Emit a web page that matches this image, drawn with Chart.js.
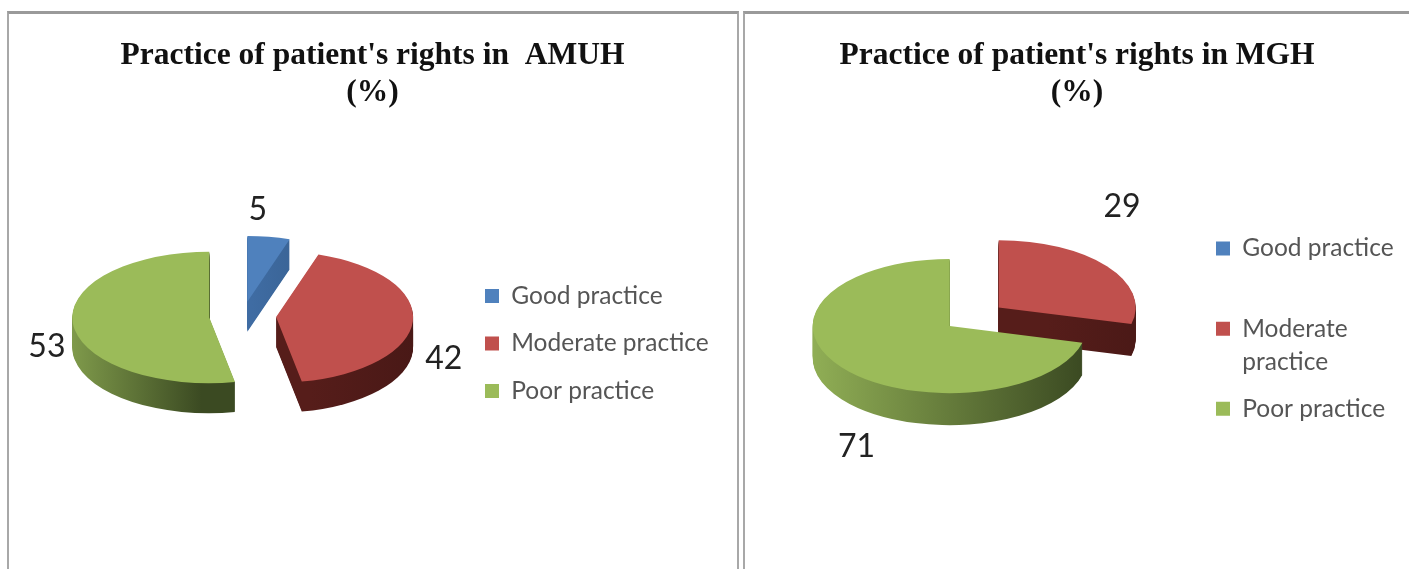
<!DOCTYPE html>
<html>
<head>
<meta charset="utf-8">
<title>Practice of patient's rights</title>
<script src="https://cdn.jsdelivr.net/npm/chart.js@4"></script>
<style>
    html, body { margin: 0; padding: 0; background: #fff; overflow: hidden; }
    body { position: relative; width: 1409px; height: 569px; }
    .panel { position: absolute; top: 11px; height: 558px; box-sizing: border-box; background: #fff;
             border-top: 3px solid #9a9a9a; border-left: 2px solid #a8a8a8; border-right: 2px solid #a8a8a8; }
    #panel-amuh { left: 7px; width: 732px; }
    #panel-mgh { left: 743px; width: 680px; }
    canvas { position: absolute; filter: blur(0.6px); }
</style>
</head>
<body>
<div class="panel" id="panel-amuh"></div>
<div class="panel" id="panel-mgh"></div>
<canvas id="amuhChart" style="left:8px;top:12px" width="729" height="557"></canvas>
<canvas id="mghChart" style="left:745px;top:12px" width="664" height="557"></canvas>
<script>
const amuhCategories = ["Good practice", "Moderate practice", "Poor practice"];
const mghCategories = [["Good practice", ""], ["Moderate", "practice"], ["Poor practice", ""]];
const amuhValues = [5, 42, 53];
const mghValues = [0, 29, 71];
const amuhTitle = ["Practice of patient's rights in  AMUH", "(%)"];
const mghTitle = ["Practice of patient's rights in MGH", "(%)"];

const topColors = ["#4f81bd", "#c0504d", "#9bbb59"];
const wallColors = [["#3f6ca3", "#3a6496"], ["#561d1a", "#451715"], ["#90ae55", "#3b4a22"]];

// squash the circle into an ellipse, drop it for the wall, then pull the slice out
function tilt(ctx, arc, squash, drop, explode) {
    const mid = (arc.startAngle + arc.endAngle) / 2;
    ctx.translate(0, arc.y + drop);
    ctx.scale(1, squash);
    ctx.translate(0, -arc.y);
    ctx.translate(Math.cos(mid) * explode, Math.sin(mid) * explode);
}

// horizontal shading of the side wall, over what the slice really covers
function wallFill(ctx, arc, stops, explode) {
    const mid = (arc.startAngle + arc.endAngle) / 2;
    const ox = arc.x + Math.cos(mid) * explode;
    let lo = ox, hi = ox;
    for (let i = 0; i <= 60; i++) {
        const a = arc.startAngle + (arc.endAngle - arc.startAngle) * i / 60;
        lo = Math.min(lo, ox + Math.cos(a) * arc.outerRadius);
        hi = Math.max(hi, ox + Math.cos(a) * arc.outerRadius);
    }
    const g = ctx.createLinearGradient(lo, 0, hi, 0);
    g.addColorStop(0, stops[0]);
    g.addColorStop(1, stops[1]);
    return g;
}

const tiltPie = {
    id: "tiltPie",
    afterLayout(chart, args, opts) {
        const lg = chart.legend;
        const dx = opts.legendLeft - lg.left;
        lg.left += dx;
        lg.right += dx;
        lg.top += opts.legendDrop;
        lg.bottom += opts.legendDrop;
        const tb = chart.titleBlock;
        const tx = chart.width / 2 - (tb.left + tb.right) / 2;
        tb.left += tx;
        tb.right += tx;
    },
    beforeDatasetDraw(chart, args, opts) {
        const ctx = chart.ctx;
        args.meta.data.forEach((arc, i) => {
            if (!arc.circumference) return;
            const base = arc.options;
            const out = opts.explode[i];
            arc.options = { ...base, backgroundColor: wallFill(ctx, arc, wallColors[i], out) };
            for (let d = opts.depth; d > 0; d--) {
                ctx.save();
                tilt(ctx, arc, opts.squash, d, out);
                arc.draw(ctx);
                ctx.restore();
            }
            arc.options = base;
            ctx.save();
            tilt(ctx, arc, opts.squash, 0, out);
            arc.draw(ctx);
            ctx.restore();
        });
        return false;
    },
    afterDatasetsDraw(chart, args, opts) {
        const ctx = chart.ctx;
        const values = chart.data.datasets[0].data;
        ctx.save();
        ctx.font = "32px Lato";
        ctx.fillStyle = "#222";
        ctx.textAlign = "center";
        ctx.textBaseline = "middle";
        chart.getDatasetMeta(0).data.forEach((arc, i) => {
            if (!values[i]) return;
            const mid = (arc.startAngle + arc.endAngle) / 2;
            const r = arc.outerRadius + opts.explode[i];
            const x = arc.x + Math.cos(mid) * r + opts.labelShift[i][0];
            const y = arc.y + Math.sin(mid) * r * opts.squash + opts.labelShift[i][1];
            ctx.fillText(String(values[i]), x, y);
        });
        ctx.restore();
    },
};

function makeChart(id, labels, values, title, padding, labelPad, tiltOpts) {
    return new Chart(document.getElementById(id), {
        type: "pie",
        plugins: [tiltPie],
        data: {
            labels,
            datasets: [{
                data: values,
                backgroundColor: topColors,
                borderWidth: 0,
                radius: 137,
            }],
        },
        options: {
            responsive: false,
            animation: false,
            layout: { padding },
            plugins: {
                tooltip: { enabled: false },
                title: {
                    display: true,
                    text: title,
                    color: "#111",
                    font: { family: "'Liberation Serif'", size: 31.5, weight: "bold", lineHeight: 1.175 },
                    padding: { top: 25, bottom: 8 },
                },
                legend: {
                    position: "right",
                    labels: {
                        color: "#555",
                        font: { family: "Lato", size: 24.5, lineHeight: 1.35 },
                        boxWidth: 14,
                        boxHeight: 14,
                        padding: labelPad,
                    },
                },
                tiltPie: tiltOpts,
            },
        },
    });
}

makeChart("amuhChart", amuhCategories, amuhValues, amuhTitle,
    { left: 13, right: 16, top: 0, bottom: 56 }, 23,
    { squash: 0.48, depth: 30, explode: [30, 33.5, 33.5], legendLeft: 454, legendDrop: 81,
      labelShift: [[-11, -27], [31, 38], [-26, 23]] });

makeChart("mghChart", mghCategories, mghValues, mghTitle,
    { left: 0, right: 53, top: 0, bottom: 36 }, 14,
    { squash: 0.49, depth: 32, explode: [0, 62, 0], legendLeft: 457, legendDrop: 77,
      labelShift: [[0, 0], [15, -60], [15, 80]] });
</script>
</body>
</html>
